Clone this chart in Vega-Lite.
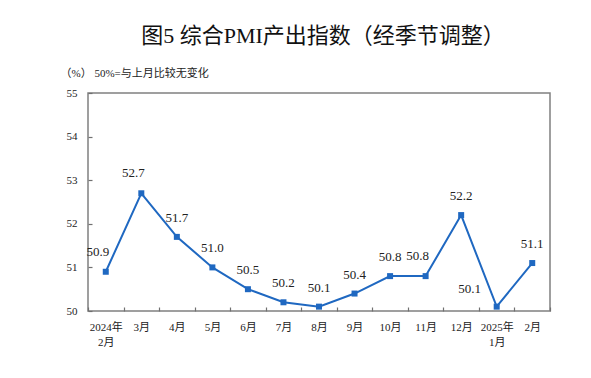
{
  "$schema": "https://vega.github.io/schema/vega-lite/v6.json",
  "width": 462,
  "height": 218,
  "autosize": {"type": "none"},
  "padding": {"left": 88, "top": 93, "right": 41, "bottom": 67},
  "background": "white",
  "title": {
    "text": "图5  综合PMI产出指数（经季节调整）",
    "font": "Liberation Serif, Noto Sans CJK SC",
    "fontSize": 22,
    "fontWeight": "normal",
    "color": "#111111",
    "anchor": "middle",
    "offset": 19,
    "dx": 4
  },
  "config": {
    "view": {"stroke": "#808080", "strokeWidth": 1.5},
    "axis": {
      "grid": false,
      "domain": false,
      "tickColor": "#707070",
      "tickWidth": 1.2,
      "labelColor": "#222222",
      "labelFont": "Liberation Serif, Noto Sans CJK SC"
    }
  },
  "data": {
    "values": [
      {"month": "2024年 2月", "value": 50.9},
      {"month": "3月", "value": 52.7},
      {"month": "4月", "value": 51.7},
      {"month": "5月", "value": 51.0},
      {"month": "6月", "value": 50.5},
      {"month": "7月", "value": 50.2},
      {"month": "8月", "value": 50.1},
      {"month": "9月", "value": 50.4},
      {"month": "10月", "value": 50.8},
      {"month": "11月", "value": 50.8},
      {"month": "12月", "value": 52.2},
      {"month": "2025年 1月", "value": 50.1},
      {"month": "2月", "value": 51.1}
    ]
  },
  "encoding": {
    "x": {
      "field": "month",
      "type": "nominal",
      "sort": null,
      "bandPosition": 0.5,
      "scale": {"type": "band", "paddingInner": 0, "paddingOuter": 0},
      "axis": {
        "title": null,
        "offset": -4,
        "labelAngle": 0,
        "labelFontSize": 11,
        "labelPadding": 10,
        "tickSize": 4,
        "tickBand": "extent",
        "labelExpr": "split(datum.label, ' ')",
        "labelLineHeight": 15
      }
    },
    "y": {
      "field": "value",
      "type": "quantitative",
      "scale": {"domain": [50, 55], "nice": false, "zero": false},
      "axis": {
        "title": "（%）  50%=与上月比较无变化",
        "titleAngle": 0,
        "titleAlign": "left",
        "titleBaseline": "middle",
        "titleX": -32,
        "titleY": -20,
        "titleFont": "Liberation Serif, Noto Sans CJK SC",
        "titleFontSize": 11,
        "titleFontWeight": "normal",
        "titleColor": "#222222",
        "offset": -4,
        "values": [50, 51, 52, 53, 54, 55],
        "labelFontSize": 11,
        "labelPadding": 11,
        "tickSize": 4
      }
    }
  },
  "layer": [
    {"mark": {"type": "line", "color": "#1f68c1", "strokeWidth": 2}},
    {"mark": {"type": "point", "shape": "square", "filled": true, "size": 36, "color": "#1f68c1", "opacity": 1}},
    {
      "transform": [{"filter": "indexof(['2024年 2月','3月','11月','2025年 1月'], datum.month) < 0"}],
      "mark": {"type": "text", "dy": -19, "font": "Liberation Serif", "fontSize": 13, "color": "#222222"},
      "encoding": {"text": {"field": "value", "type": "quantitative", "format": ".1f"}}
    },
    {
      "transform": [{"filter": "indexof(['2024年 2月','3月','11月'], datum.month) >= 0"}],
      "mark": {"type": "text", "dy": -20, "dx": -8, "font": "Liberation Serif", "fontSize": 13, "color": "#222222"},
      "encoding": {"text": {"field": "value", "type": "quantitative", "format": ".1f"}}
    },
    {
      "transform": [{"filter": "datum.month == '2025年 1月'"}],
      "mark": {"type": "text", "dy": -18, "dx": -27, "font": "Liberation Serif", "fontSize": 13, "color": "#222222"},
      "encoding": {"text": {"field": "value", "type": "quantitative", "format": ".1f"}}
    }
  ]
}
